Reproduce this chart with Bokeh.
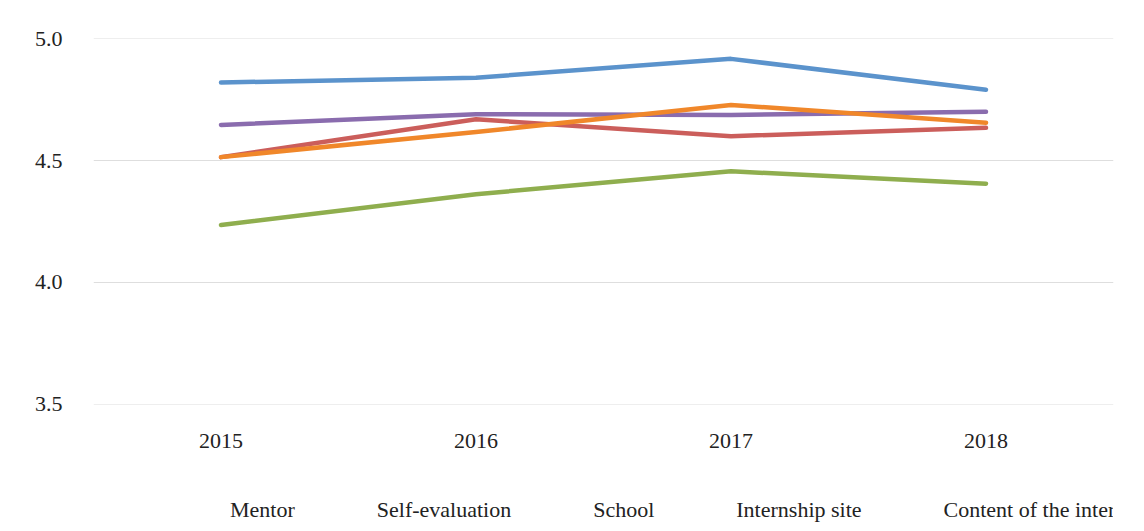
from bokeh.plotting import figure
from bokeh.layouts import column
from bokeh.models import Legend, LegendItem, FixedTicker, Range1d, ColumnDataSource, CustomJSTickFormatter
from bokeh.embed import file_html
from bokeh.resources import INLINE

years = ["2015", "2016", "2017", "2018"]
mentor = [4.82, 4.84, 4.917, 4.79]
self_eval = [4.514, 4.669, 4.60, 4.634]
school = [4.236, 4.362, 4.456, 4.405]
site = [4.646, 4.69, 4.687, 4.70]
content = [4.514, 4.617, 4.728, 4.655]

series = [
    ("Mentor", mentor, "#5B93CC"),
    ("Self-evaluation", self_eval, "#CB5E5B"),
    ("School", school, "#8FAE4E"),
    ("Internship site", site, "#8A6CAE"),
    ("Content of the internship", content, "#F0872A"),
]

FONT = "Liberation Serif"
FS = "22px"

p = figure(x_range=years, frame_width=1020, frame_height=366, output_backend="svg",
           toolbar_location=None, min_border_left=93, min_border_right=31,
           min_border_top=38, min_border_bottom=56)
p.y_range = Range1d(3.4995, 5.0005)
p.x_range.range_padding = 0.0
p.outline_line_color = None
p.background_fill_color = "white"
p.border_fill_color = "white"

for name, vals, col in series:
    src = ColumnDataSource(dict(x=years, y=vals))
    p.line("x", "y", source=src, line_color=col, line_width=4.5, line_join="round", line_cap="round")

p.yaxis.ticker = FixedTicker(ticks=[3.5, 4.0, 4.5, 5.0])
p.yaxis.formatter = CustomJSTickFormatter(code="return tick.toFixed(1);")
for ax in (p.xaxis[0], p.yaxis[0]):
    ax.axis_line_color = None
    ax.major_tick_line_color = None
    ax.minor_tick_line_color = None
    ax.major_label_text_font = FONT
    ax.major_label_text_font_size = FS
    ax.major_label_text_color = "#222222"
p.yaxis.major_label_standoff = 25
p.xaxis.major_label_standoff = 23
p.xgrid.grid_line_color = None
p.ygrid.grid_line_color = "#dedede"
p.ygrid.grid_line_width = 1

# legend strip below the chart
lg = figure(width=1144, height=71, output_backend="svg", toolbar_location=None,
            x_axis_type=None, y_axis_type=None, min_border=0,
            x_range=Range1d(0, 1), y_range=Range1d(0, 1))
lg.outline_line_color = None
lg.xgrid.grid_line_color = None
lg.ygrid.grid_line_color = None
lg.background_fill_color = "white"
lg.border_fill_color = "white"

items = []
for name, vals, col in series:
    r = lg.line(x=[], y=[], line_color=col, line_width=4.5)
    items.append(LegendItem(label=name, renderers=[r]))

legend = Legend(items=items, orientation="horizontal", location=(83, 8),
                label_text_font=FONT, label_text_font_size=FS, label_text_color="#222222",
                glyph_width=51, label_standoff=3, spacing=28, margin=0,
                border_line_color=None, background_fill_alpha=0, padding=5)
lg.add_layout(legend, "center")

layout = column(p, lg, spacing=0)
open("out.html", "w").write(file_html(layout, INLINE))
